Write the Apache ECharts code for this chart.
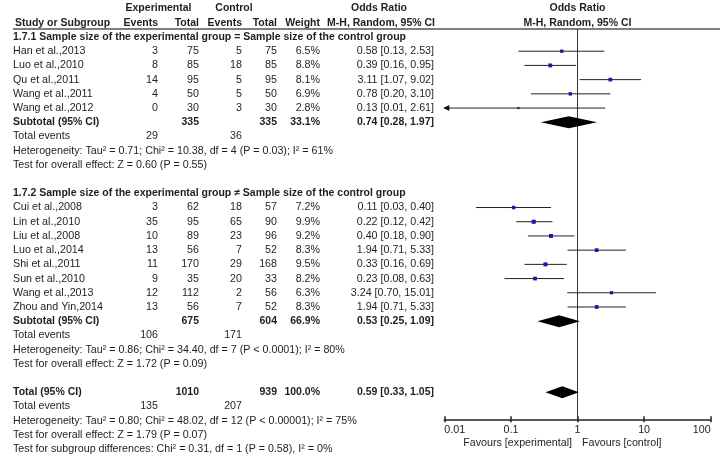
<!DOCTYPE html>
<html>
<head>
<meta charset="utf-8">
<script src="https://cdn.jsdelivr.net/npm/echarts@6/dist/echarts.min.js"></script>
<style>html,body{margin:0;padding:0;background:#fff}#c{width:725px;height:459px}</style>
</head>
<body>
<div id="c"></div>
<script>
// ---------- data ----------
const group1Title = '1.7.1 Sample size of the experimental group = Sample size of the control group';
const group1Studies = ['Han et al.,2013', 'Luo et al.,2010', 'Qu et al.,2011', 'Wang et al.,2011', 'Wang et al.,2012'];
const group1ExpEvents = [3, 8, 14, 4, 0];
const group1ExpTotal = [75, 85, 95, 50, 30];
const group1CtrlEvents = [5, 18, 5, 5, 3];
const group1CtrlTotal = [75, 85, 95, 50, 30];
const group1Weight = [6.5, 8.8, 8.1, 6.9, 2.8];
const group1OR = [0.58, 0.39, 3.11, 0.78, 0.13];
const group1Lo = [0.13, 0.16, 1.07, 0.20, 0.01];
const group1Hi = [2.53, 0.95, 9.02, 3.10, 2.61];

const group2Title = '1.7.2 Sample size of the experimental group \u2260 Sample size of the control group';
const group2Studies = ['Cui et al.,2008', 'Lin et al.,2010', 'Liu et al.,2008', 'Luo et al.,2014', 'Shi et al.,2011', 'Sun et al.,2010', 'Wang et al.,2013', 'Zhou and Yin,2014'];
const group2ExpEvents = [3, 35, 10, 13, 11, 9, 12, 13];
const group2ExpTotal = [62, 95, 89, 56, 170, 35, 112, 56];
const group2CtrlEvents = [18, 65, 23, 7, 29, 20, 2, 7];
const group2CtrlTotal = [57, 90, 96, 52, 168, 33, 56, 52];
const group2Weight = [7.2, 9.9, 9.2, 8.3, 9.5, 8.2, 6.3, 8.3];
const group2OR = [0.11, 0.22, 0.40, 1.94, 0.33, 0.23, 3.24, 1.94];
const group2Lo = [0.03, 0.12, 0.18, 0.71, 0.16, 0.08, 0.70, 0.71];
const group2Hi = [0.40, 0.42, 0.90, 5.33, 0.69, 0.63, 15.01, 5.33];

// summaries: subtotal 1, subtotal 2, total
const summaryLabels = ['Subtotal (95% CI)', 'Subtotal (95% CI)', 'Total (95% CI)'];
const summaryExpTotal = [335, 675, 1010];
const summaryCtrlTotal = [335, 604, 939];
const summaryWeight = [33.1, 66.9, 100.0];
const summaryOR = [0.74, 0.53, 0.59];
const summaryLo = [0.28, 0.25, 0.33];
const summaryHi = [1.97, 1.09, 1.05];
const summaryExpEvents = [29, 106, 135];
const summaryCtrlEvents = [36, 171, 207];
const heterogeneityTexts = [
  'Heterogeneity: Tau\u00b2 = 0.71; Chi\u00b2 = 10.38, df = 4 (P = 0.03); I\u00b2 = 61%',
  'Heterogeneity: Tau\u00b2 = 0.86; Chi\u00b2 = 34.40, df = 7 (P < 0.0001); I\u00b2 = 80%',
  'Heterogeneity: Tau\u00b2 = 0.80; Chi\u00b2 = 48.02, df = 12 (P < 0.00001); I\u00b2 = 75%'
];
const overallEffectTexts = [
  'Test for overall effect: Z = 0.60 (P = 0.55)',
  'Test for overall effect: Z = 1.72 (P = 0.09)',
  'Test for overall effect: Z = 1.79 (P = 0.07)'
];
const subgroupDiffText = 'Test for subgroup differences: Chi\u00b2 = 0.31, df = 1 (P = 0.58), I\u00b2 = 0%';

const axisTicks = [0.01, 0.1, 1, 10, 100];
const axisTickLabels = ['0.01', '0.1', '1', '10', '100'];
const favoursLeft = 'Favours [experimental]';
const favoursRight = 'Favours [control]';

// ---------- layout ----------
const ROW0 = 37, ROWH = 14.21;
const rowY = i => ROW0 + ROWH * i;
const HEAD_LINE_Y = 29, AXIS_Y = 419.3;
const X_MIN_PX = 444.3, X_MAX_PX = 710.7;
const COL = { name: 13, expE: 158, expT: 199, ctlE: 242, ctlT: 277, wt: 320, ort: 434 };
const FF = '"Liberation Sans", Arial, sans-serif';
const FONT = '10.7px ' + FF;
const FONTB = 'bold 10.5px ' + FF;
const TXT = '#1e1e1e';

const fmtOR = (o, l, h) => `${o.toFixed(2)} [${l.toFixed(2)}, ${h.toFixed(2)}]`;

const graphics = [];
function txt(x, y, text, align, bold, color) {
  graphics.push({
    type: 'text', x: x, y: y, silent: true,
    style: { text: String(text), textAlign: align || 'left', textVerticalAlign: 'middle', font: bold ? FONTB : FONT, fill: color || TXT }
  });
}

// header
txt(158.5, 8.5, 'Experimental', 'center', true);
txt(234, 8.5, 'Control', 'center', true);
txt(379, 8.5, 'Odds Ratio', 'center', true);
txt(577.5, 8.5, 'Odds Ratio', 'center', true);
txt(15, 23, 'Study or Subgroup', 'left', true);
txt(COL.expE, 23, 'Events', 'right', true);
txt(COL.expT, 23, 'Total', 'right', true);
txt(COL.ctlE, 23, 'Events', 'right', true);
txt(COL.ctlT, 23, 'Total', 'right', true);
txt(COL.wt, 23, 'Weight', 'right', true);
txt(435, 23, 'M-H, Random, 95% CI', 'right', true);
txt(577.5, 23, 'M-H, Random, 95% CI', 'center', true);
graphics.push({ type: 'line', silent: true, shape: { x1: 13, y1: HEAD_LINE_Y, x2: 720, y2: HEAD_LINE_Y }, style: { stroke: '#555', lineWidth: 1.5 } });

const studyData = [];
const summaryData = [];
function addGroup(startRow, title, names, eE, eT, cE, cT, w, o, l, h, si) {
  let r = startRow;
  txt(COL.name, rowY(r), title, 'left', true);
  r++;
  names.forEach((n, k) => {
    const y = rowY(r);
    txt(COL.name, y, n);
    txt(COL.expE, y, eE[k], 'right');
    txt(COL.expT, y, eT[k], 'right');
    txt(COL.ctlE, y, cE[k], 'right');
    txt(COL.ctlT, y, cT[k], 'right');
    txt(COL.wt, y, w[k].toFixed(1) + '%', 'right');
    txt(COL.ort, y, fmtOR(o[k], l[k], h[k]), 'right');
    studyData.push([o[k], l[k], h[k], r, w[k]]);
    r++;
  });
  addSummary(r, si);
  return r;
}
function addSummary(r, si) {
  const y = rowY(r);
  txt(COL.name, y, summaryLabels[si], 'left', true);
  txt(COL.expT, y, summaryExpTotal[si], 'right', true);
  txt(COL.ctlT, y, summaryCtrlTotal[si], 'right', true);
  txt(COL.wt, y, summaryWeight[si].toFixed(1) + '%', 'right', true);
  txt(COL.ort, y, fmtOR(summaryOR[si], summaryLo[si], summaryHi[si]), 'right', true);
  summaryData.push([summaryOR[si], summaryLo[si], summaryHi[si], r]);
  txt(COL.name, rowY(r + 1), 'Total events');
  txt(COL.expE, rowY(r + 1), summaryExpEvents[si], 'right');
  txt(COL.ctlE, rowY(r + 1), summaryCtrlEvents[si], 'right');
  txt(COL.name, rowY(r + 2), heterogeneityTexts[si]);
  txt(COL.name, rowY(r + 3), overallEffectTexts[si]);
}
addGroup(0, group1Title, group1Studies, group1ExpEvents, group1ExpTotal, group1CtrlEvents, group1CtrlTotal, group1Weight, group1OR, group1Lo, group1Hi, 0);
addGroup(11, group2Title, group2Studies, group2ExpEvents, group2ExpTotal, group2CtrlEvents, group2CtrlTotal, group2Weight, group2OR, group2Lo, group2Hi, 1);
addSummary(25, 2);
txt(COL.name, rowY(29), subgroupDiffText);
txt(572, 443, favoursLeft, 'right');
txt(582, 443, favoursRight, 'left');

const yMin = (HEAD_LINE_Y - ROW0) / ROWH;
const yMax = (AXIS_Y - ROW0) / ROWH;

const chart = echarts.init(document.getElementById('c'), null, { renderer: 'canvas' });
const xBase = { type: 'log', logBase: 10, min: axisTicks[0], max: axisTicks[axisTicks.length - 1], splitNumber: axisTicks.length - 1, splitLine: { show: false } };
chart.setOption({
  animation: false,
  grid: { left: X_MIN_PX, right: 725 - X_MAX_PX, top: HEAD_LINE_Y, bottom: 459 - AXIS_Y, containLabel: false },
  xAxis: [
    Object.assign({}, xBase, {
      position: 'bottom',
      axisLine: { show: true, onZero: false, lineStyle: { color: '#222', width: 1.5 } },
      axisTick: { show: true, inside: false, length: 3, lineStyle: { color: '#222', width: 1.5 } },
      axisLabel: {
        show: true, margin: 5, color: TXT, fontSize: 10.7, fontFamily: FF,
        alignMinLabel: 'left', alignMaxLabel: 'right',
        formatter: v => { const k = axisTicks.findIndex(t => Math.abs(Math.log10(t) - Math.log10(v)) < 1e-6); return k >= 0 ? axisTickLabels[k] : ''; }
      }
    }),
    Object.assign({}, xBase, {
      position: 'bottom',
      axisLine: { show: false, onZero: false },
      axisTick: { show: true, inside: true, length: 3, lineStyle: { color: '#222', width: 1.5 } },
      axisLabel: { show: false }
    })
  ],
  yAxis: { type: 'value', inverse: true, min: yMin, max: yMax, show: false },
  graphic: graphics,
  series: [
    {
      type: 'line', xAxisIndex: 0, data: [[1, yMin], [1, yMax]], showSymbol: false, symbol: 'none',
      lineStyle: { color: '#333', width: 1 }, silent: true, z: 1
    },
    {
      type: 'custom', xAxisIndex: 0, data: studyData, silent: true, z: 3,
      renderItem: (params, api) => {
        const o = api.value(0), l = api.value(1), h = api.value(2), r = api.value(3), w = api.value(4);
        const pL = api.coord([Math.max(l, axisTicks[0]), r]);
        const pH = api.coord([h, r]);
        const pO = api.coord([o, r]);
        const s = 1.3 * Math.sqrt(w);
        const children = [
          { type: 'line', shape: { x1: pL[0], y1: pL[1], x2: pH[0], y2: pH[1] }, style: { stroke: '#222', lineWidth: 1 } },
          { type: 'rect', shape: { x: pO[0] - s / 2, y: pO[1] - s / 2, width: s, height: s }, style: { fill: '#1a1aa6' } }
        ];
        if (l <= axisTicks[0]) {
          children.push({ type: 'polygon', shape: { points: [[pL[0] - 1, pL[1]], [pL[0] + 5, pL[1] - 3], [pL[0] + 5, pL[1] + 3]] }, style: { fill: '#111' } });
        }
        return { type: 'group', children };
      }
    },
    {
      type: 'custom', xAxisIndex: 0, data: summaryData, silent: true, z: 3,
      renderItem: (params, api) => {
        const o = api.value(0), l = api.value(1), h = api.value(2), r = api.value(3);
        const pL = api.coord([l, r]), pH = api.coord([h, r]), pO = api.coord([o, r]);
        const hh = 6;
        return { type: 'polygon', shape: { points: [[pL[0], pL[1]], [pO[0], pO[1] - hh], [pH[0], pH[1]], [pO[0], pO[1] + hh]] }, style: { fill: '#000' } };
      }
    }
  ]
});
</script>
</body>
</html>
